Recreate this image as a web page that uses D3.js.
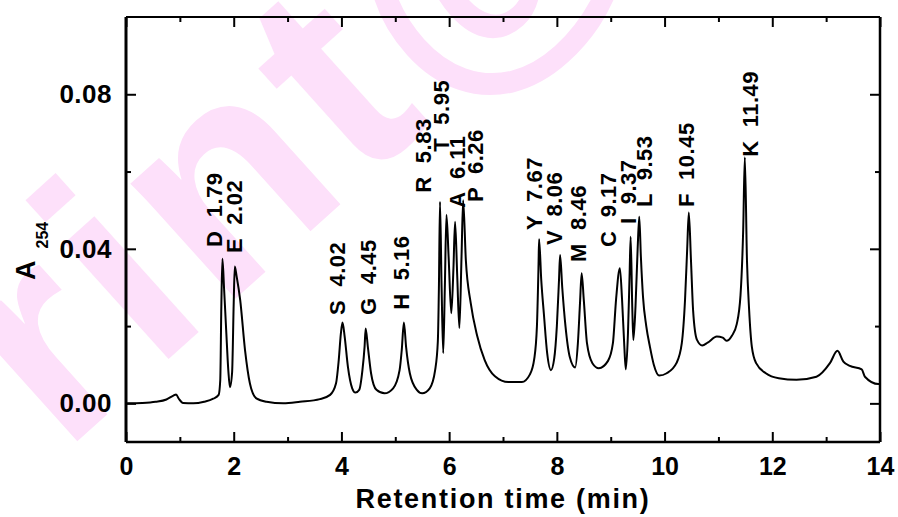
<!DOCTYPE html>
<html>
<head>
<meta charset="utf-8">
<script src="https://cdn.jsdelivr.net/npm/d3@7"></script>
<style>
  html, body { margin: 0; padding: 0; background: #fff; }
  svg text { font-family: "Liberation Sans", Arial, Helvetica, sans-serif; font-weight: bold; }
  .peak-label { white-space: pre; }
</style>
</head>
<body>
<svg id="chart" width="898" height="517"></svg>
<script>
// Chromatogram trace: retention time (min) and absorbance at 254 nm
const retentionTime = [
  0.02, 0.30, 0.55, 0.75, 0.88, 0.93, 0.98, 1.06, 1.25, 1.45, 1.62, 1.72, 1.75, 1.77, 1.79,
  1.82, 1.86, 1.90, 1.93, 1.97, 2.00, 2.02, 2.055, 2.12, 2.21, 2.30, 2.42, 2.61, 2.92, 3.23,
  3.60, 3.79, 3.90, 3.95, 3.99, 4.02, 4.06, 4.12, 4.20, 4.26, 4.33, 4.39, 4.43, 4.45, 4.49,
  4.55, 4.65, 4.80, 4.96, 5.08, 5.12, 5.16, 5.20, 5.27, 5.40, 5.50, 5.64, 5.74, 5.79, 5.81,
  5.83, 5.86, 5.89, 5.92, 5.95, 5.99, 6.04, 6.08, 6.11, 6.15, 6.19, 6.23, 6.26, 6.31, 6.40,
  6.52, 6.66, 6.85, 7.10, 7.35, 7.50, 7.58, 7.63, 7.66, 7.67, 7.71, 7.76, 7.82, 7.89, 7.95,
  8.00, 8.04, 8.06, 8.10, 8.16, 8.24, 8.34, 8.39, 8.43, 8.46, 8.50, 8.56, 8.66, 8.78, 8.95,
  9.04, 9.10, 9.17, 9.21, 9.25, 9.28, 9.32, 9.35, 9.37, 9.40, 9.42, 9.46, 9.50, 9.53, 9.56,
  9.60, 9.66, 9.73, 9.80, 9.90, 10.04, 10.22, 10.32, 10.38, 10.42, 10.45, 10.49, 10.53, 10.60, 10.70,
  10.80, 10.97, 11.08, 11.15, 11.25, 11.34, 11.41, 11.46, 11.49, 11.53, 11.57, 11.62, 11.70, 11.88, 12.12,
  12.45, 12.82, 13.07, 13.21, 13.32, 13.44, 13.66, 13.72, 13.97, 14.00
];
const absorbance = [
  0.0000, 0.0001, 0.0004, 0.0010, 0.0020, 0.0023, 0.0012, 0.0001, 0.0000, 0.0004, 0.0012, 0.0022, 0.0060, 0.0250, 0.0374,
  0.0300, 0.0190, 0.0085, 0.0042, 0.0080, 0.0260, 0.0354, 0.0328, 0.0268, 0.0138, 0.0052, 0.0013, 0.0004, 0.0000, 0.0004,
  0.0011, 0.0022, 0.0052, 0.0112, 0.0181, 0.0209, 0.0173, 0.0095, 0.0039, 0.0028, 0.0035, 0.0086, 0.0147, 0.0194, 0.0147,
  0.0078, 0.0035, 0.0026, 0.0039, 0.0086, 0.0138, 0.0209, 0.0147, 0.0078, 0.0035, 0.0026, 0.0039, 0.0086, 0.0160, 0.0300,
  0.0522, 0.0300, 0.0130, 0.0300, 0.0488, 0.0380, 0.0233, 0.0350, 0.0470, 0.0330, 0.0195, 0.0380, 0.0526, 0.0371, 0.0260,
  0.0175, 0.0112, 0.0070, 0.0055, 0.0055, 0.0075, 0.0115, 0.0200, 0.0360, 0.0425, 0.0320, 0.0230, 0.0130, 0.0086, 0.0115,
  0.0200, 0.0320, 0.0384, 0.0300, 0.0200, 0.0120, 0.0093, 0.0155, 0.0260, 0.0337, 0.0268, 0.0155, 0.0104, 0.0091, 0.0110,
  0.0155, 0.0270, 0.0350, 0.0270, 0.0155, 0.0088, 0.0180, 0.0330, 0.0431, 0.0250, 0.0164, 0.0250, 0.0400, 0.0483, 0.0380,
  0.0275, 0.0200, 0.0145, 0.0100, 0.0072, 0.0078, 0.0104, 0.0156, 0.0268, 0.0400, 0.0494, 0.0371, 0.0240, 0.0165, 0.0150,
  0.0157, 0.0173, 0.0170, 0.0162, 0.0175, 0.0205, 0.0280, 0.0450, 0.0637, 0.0370, 0.0242, 0.0147, 0.0104, 0.0078, 0.0065,
  0.0061, 0.0069, 0.0104, 0.0136, 0.0108, 0.0097, 0.0088, 0.0069, 0.0050, 0.0050
];

// Amino acid peaks and their retention times (min)
const peakNames = ["D", "E", "S", "G", "H", "R", "T", "A", "P", "Y", "V", "M", "C", "I", "L", "F", "K"];
const peakTimes = [1.79, 2.02, 4.02, 4.45, 5.16, 5.83, 5.95, 6.11, 6.26, 7.67, 8.06, 8.46, 9.17, 9.37, 9.53, 10.45, 11.49];

// Axis ticks
const xTickValues = [0, 2, 4, 6, 8, 10, 12, 14];
const xMinorTicks = [1, 3, 5, 7, 9, 11, 13];
const yTickValues = [0.00, 0.04, 0.08];
const yMinorTicks = [0.02, 0.06];

// Where each peak label sits: horizontal nudge (px) and the absorbance level of its foot
const labelNudge = [-8, -1, -5, 2, -3, -17, -5, 2, 12, -5, -6, -4, -12, -3, 5, -3, 5];
const labelLevel = [0.0405, 0.0389, 0.0229, 0.0229, 0.0242, 0.0545, 0.0651, 0.0506, 0.0521,
                    0.0449, 0.0410, 0.0366, 0.0405, 0.0464, 0.0508, 0.0508, 0.0638];

const W = 898, H = 517;
const margin = { left: 126, right: 18, top: 17, bottom: 75 };
const svg = d3.select("#chart");

const x = d3.scaleLinear().domain([0, 14]).range([margin.left, W - margin.right]);
const y = d3.scaleLinear().domain([-0.01, 0.10]).range([H - margin.bottom, margin.top]);

// Faint background stamp
svg.append("text")
  .attr("transform", "translate(62,455) rotate(-42)")
  .attr("font-size", 295)
  .attr("letter-spacing", 8)
  .attr("fill", "#fde0fa")
  .text("rint@");

// Trace
const points = retentionTime.map((t, i) => [t, absorbance[i]]);
svg.append("path")
  .datum(points)
  .attr("fill", "none")
  .attr("stroke", "#000")
  .attr("stroke-width", 2)
  .attr("stroke-linejoin", "round")
  .attr("d", d3.line().x(d => x(d[0])).y(d => y(d[1])).curve(d3.curveMonotoneX));

// Axes with inward ticks
function styleAxis(g) {
  g.select(".domain").remove();
  g.selectAll(".tick line").attr("stroke", "#000").attr("stroke-width", 2);
  g.selectAll(".tick text").attr("fill", "#000");
}
const xb = H - margin.bottom, yt = margin.top, xl = margin.left, xr = W - margin.right;

svg.append("g").attr("transform", `translate(0,${xb})`)
  .call(d3.axisBottom(x).tickValues(xTickValues).tickFormat(d3.format("d"))
    .tickSizeInner(-10).tickSizeOuter(0).tickPadding(15))
  .call(styleAxis)
  .call(g => g.selectAll(".tick text").attr("font-size", 25).attr("font-family", null));
svg.append("g").attr("transform", `translate(0,${xb})`)
  .call(d3.axisBottom(x).tickValues(xMinorTicks).tickFormat("").tickSizeInner(-5).tickSizeOuter(0))
  .call(styleAxis);
svg.append("g").attr("transform", `translate(0,${yt})`)
  .call(d3.axisTop(x).tickValues(xTickValues).tickFormat("").tickSizeInner(-10).tickSizeOuter(0))
  .call(styleAxis);
svg.append("g").attr("transform", `translate(0,${yt})`)
  .call(d3.axisTop(x).tickValues(xMinorTicks).tickFormat("").tickSizeInner(-5).tickSizeOuter(0))
  .call(styleAxis);

svg.append("g").attr("transform", `translate(${xl},0)`)
  .call(d3.axisLeft(y).tickValues(yTickValues).tickFormat(d3.format(".2f"))
    .tickSizeInner(-10).tickSizeOuter(0).tickPadding(14))
  .call(styleAxis)
  .call(g => g.selectAll(".tick text").attr("font-size", 26).attr("letter-spacing", 0.5).attr("font-family", null));
svg.append("g").attr("transform", `translate(${xl},0)`)
  .call(d3.axisLeft(y).tickValues(yMinorTicks).tickFormat("").tickSizeInner(-5).tickSizeOuter(0))
  .call(styleAxis);
svg.append("g").attr("transform", `translate(${xr},0)`)
  .call(d3.axisRight(y).tickValues(yTickValues).tickFormat("").tickSizeInner(-10).tickSizeOuter(0))
  .call(styleAxis);
svg.append("g").attr("transform", `translate(${xr},0)`)
  .call(d3.axisRight(y).tickValues(yMinorTicks).tickFormat("").tickSizeInner(-5).tickSizeOuter(0))
  .call(styleAxis);

// Plot frame
svg.append("line").attr("x1", xl).attr("x2", xr).attr("y1", yt).attr("y2", yt).attr("stroke", "#000").attr("stroke-width", 2);
svg.append("line").attr("x1", xl).attr("x2", xr).attr("y1", xb).attr("y2", xb).attr("stroke", "#000").attr("stroke-width", 2.5);
svg.append("line").attr("x1", xl).attr("x2", xl).attr("y1", yt).attr("y2", xb).attr("stroke", "#000").attr("stroke-width", 3);
svg.append("line").attr("x1", xr).attr("x2", xr).attr("y1", yt).attr("y2", xb).attr("stroke", "#000").attr("stroke-width", 2.5);

// Peak labels, written upward above each peak
svg.append("g").selectAll("text")
  .data(peakNames)
  .join("text")
  .attr("class", "peak-label")
  .attr("transform", (d, i) => `translate(${x(peakTimes[i]) + labelNudge[i]},${y(labelLevel[i])}) rotate(-90)`)
  .attr("dy", "0.36em")
  .attr("font-size", 22)
  .attr("letter-spacing", 0.5)
  .attr("fill", "#000")
  .text((d, i) => `${d}  ${peakTimes[i].toFixed(2)}`);

// Axis titles
svg.append("text")
  .attr("x", (xl + xr) / 2)
  .attr("y", 508)
  .attr("text-anchor", "middle")
  .attr("font-size", 27)
  .attr("letter-spacing", 1.7)
  .text("Retention time (min)");

const yTitle = svg.append("text")
  .attr("transform", "translate(35,280) rotate(-90)")
  .attr("font-size", 27);
yTitle.append("tspan").text("A");
yTitle.append("tspan").attr("dx", 12).attr("dy", 13).attr("font-size", 16).text("254");
</script>
</body>
</html>
